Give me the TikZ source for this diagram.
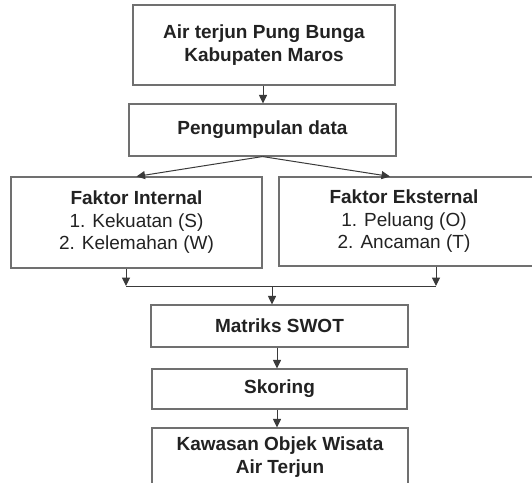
\documentclass[tikz,border=0pt]{standalone}
\usepackage{fontspec}
\setmainfont{Liberation Sans}
\usetikzlibrary{arrows.meta}
\definecolor{boxgray}{HTML}{707070}
\definecolor{linegray}{HTML}{3A3A3A}
\definecolor{txt}{HTML}{222222}
\begin{document}
\begin{tikzpicture}[x=1pt,y=-1pt,
  box/.style={draw=boxgray,line width=1.1pt,fill=white,inner sep=0pt,align=center,
    text=txt,font=\fontsize{19}{22.5}\selectfont},
  plain/.style={inner sep=0pt,align=center,text=txt,font=\fontsize{19}{22.5}\selectfont},
  arr/.style={draw=linegray,line width=1pt,-{Triangle[length=8.5pt,width=8pt]}},
  ln/.style={draw=linegray,line width=1pt}]
\useasboundingbox (0,0) rectangle (532,482);
\node[box,minimum width=262pt,minimum height=80pt] (b1) at (264,45) {\textbf{Air terjun Pung Bunga}\\\textbf{Kabupaten Maros}};
\node[box,minimum width=267pt,minimum height=52pt] (b2) at (262.5,130) {\textbf{Pengumpulan data}};
\node[box,minimum width=251pt,minimum height=91pt] (b3) at (136.5,222.5) {\textbf{Faktor Internal}\\1. Kekuatan (S)\\2. Kelemahan (W)};
\node[box,minimum width=262pt,minimum height=89pt] (b4) at (410,221.5) {};
\node[plain] (b4t) at (404,221.5) {\textbf{Faktor Eksternal}\\1. Peluang (O)\\2. Ancaman (T)};
\node[box,minimum width=257pt,minimum height=42pt] (b5) at (279.5,326) {\textbf{Matriks SWOT}};
\node[box,minimum width=255pt,minimum height=40pt] (b6) at (279.5,389) {\textbf{Skoring}};
\node[box,minimum width=256pt,minimum height=58pt] (b7) at (280,457) {\textbf{Kawasan Objek Wisata}\\\textbf{Air Terjun}};
\coordinate (jl) at (126,286);
\coordinate (jr) at (436,286);
\coordinate (jm) at (272,286);
\coordinate (c1) at (263,0);
\coordinate (c2) at (277,0);
\coordinate (c3) at (390,0);
\draw[arr] (b1.south -| c1) -- (b2.north -| c1);
\draw[arr] (b2.south) -- (b3.north);
\draw[arr] (b2.south) -- (b4.north -| c3);
\draw[arr] (b3.south -| jl) -- (jl);
\draw[arr] (b4.south -| jr) -- (jr);
\draw[ln] (jl) -- (jr);
\draw[arr] (jm) -- (b5.north -| jm);
\draw[arr] (b5.south -| c2) -- (b6.north -| c2);
\draw[arr] (b6.south -| c2) -- (b7.north -| c2);
\end{tikzpicture}
\end{document}
